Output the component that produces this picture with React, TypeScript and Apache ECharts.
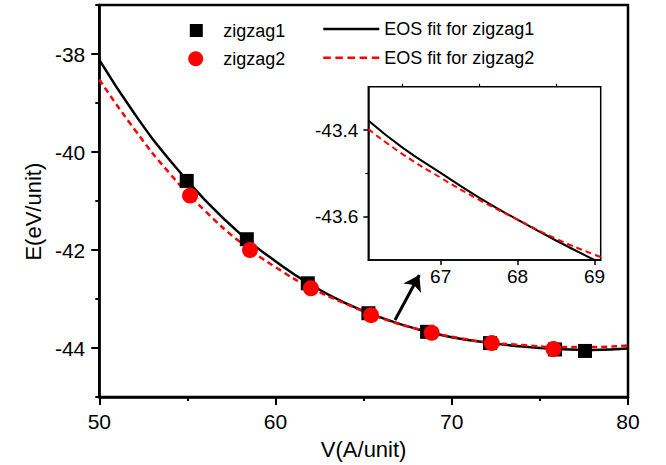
import React, { useEffect, useRef } from "react";
import * as echarts from "echarts";

// ---- data ----
const ZIGZAG1_X = [54.96, 58.37, 61.83, 65.27, 68.6, 72.17, 75.86, 77.56];
const ZIGZAG1_Y = [-40.59, -41.78, -42.68, -43.29, -43.67, -43.9, -44.03, -44.06];

const ZIGZAG2_X = [55.15, 58.55, 62.01, 65.42, 68.86, 72.27, 75.77];
const ZIGZAG2_Y = [-40.89, -42.0, -42.78, -43.33, -43.69, -43.9, -44.02];

const FIT1_X = [50, 52, 54, 56, 58, 60, 62, 64, 66, 68, 70, 72, 74, 76, 78, 80];
const FIT1_Y = [-38.12, -39.22, -40.17, -40.98, -41.67, -42.23, -42.71, -43.09, -43.38, -43.61, -43.78, -43.89, -43.97, -44.02, -44.04, -44.01];

const FIT2_X = [50, 52, 54, 56, 58, 60, 62, 64, 66, 68, 70, 72, 74, 76, 78, 80];
const FIT2_Y = [-38.52, -39.54, -40.44, -41.2, -41.84, -42.35, -42.77, -43.1, -43.39, -43.61, -43.77, -43.88, -43.94, -43.98, -43.98, -43.95];

const INSET1_X = [66.06, 66.5, 67, 67.5, 68, 68.5, 69];
const INSET1_Y = [-43.378, -43.44, -43.499, -43.556, -43.607, -43.655, -43.7];

const INSET2_X = [66.06, 66.5, 67, 67.5, 68, 68.5, 69, 69.08];
const INSET2_Y = [-43.398, -43.455, -43.51, -43.561, -43.607, -43.651, -43.688, -43.693];

const MAIN_X_TICKS = [50, 60, 70, 80];
const MAIN_Y_MAJOR = [-44, -42, -40, -38];
const INSET_X_MAJOR = [67, 68, 69];
const INSET_X_MINOR = [66.5, 67.5, 68.5];
const INSET_Y_MAJOR = [-43.6, -43.4];
const INSET_Y_MINOR = [-43.5];

const ARROW_FROM = [66.78, -43.43];
const ARROW_TO = [68.16, -42.51];

const zip = (xs: number[], ys: number[]) => xs.map((x, i) => [x, ys[i]]);

const FONT = "'Liberation Sans', Arial, sans-serif";

const SQUARE_ICON = "path://M0,0h10v10h-10z";
const SOLID_ICON = "path://M0,0h56v2.6h-56z";
const DASH_ICON =
  "path://M0,0h7.5v2.6h-7.5z M12.1,0h7.5v2.6h-7.5z M24.2,0h7.5v2.6h-7.5z M36.3,0h7.5v2.6h-7.5z M48.5,0h7.5v2.6h-7.5z";

export default function App() {
  const ref = useRef<HTMLDivElement>(null);
  useEffect(() => {
    if (!ref.current) return;
    const chart = echarts.init(ref.current, undefined, { renderer: "svg" });
    const txt = { color: "#000", fontFamily: FONT };
    const legendText = { ...txt, fontSize: 18, lineHeight: 18 };
    chart.setOption({
      animation: false,
      backgroundColor: "#fff",
      legend: [
        {
          data: [{ name: "zigzag1", icon: SQUARE_ICON }],
          left: 189.8, top: 21.5, padding: 0, itemWidth: 13, itemHeight: 13,
          textStyle: { ...legendText, padding: [0, 0, 0, 15.5] }, selectedMode: false,
        },
        {
          data: [{ name: "zigzag2", icon: "circle" }],
          left: 188.2, top: 49.8, padding: 0, itemWidth: 15, itemHeight: 15,
          textStyle: { ...legendText, padding: [0, 0, 0, 15] }, selectedMode: false,
        },
        {
          data: [{ name: "EOS fit for zigzag1", icon: SOLID_ICON }],
          left: 323.3, top: 20, padding: 0, itemWidth: 56, itemHeight: 14,
          textStyle: legendText, selectedMode: false,
        },
        {
          data: [{ name: "EOS fit for zigzag2", icon: DASH_ICON }],
          left: 323.3, top: 48.7, padding: 0, itemWidth: 56, itemHeight: 14,
          textStyle: legendText, selectedMode: false,
        },
      ],
      grid: [
        { left: 99.3, top: 5, width: 528.7, height: 392, show: true, borderColor: "#000", borderWidth: 2.5 },
        { left: 368.3, top: 86.7, width: 232.4, height: 173.3, show: true, borderColor: "#000", borderWidth: 1.5, backgroundColor: "#fff" },
      ],
      xAxis: [
        {
          gridIndex: 0, type: "value", min: 50, max: 80, interval: 10,
          axisLine: { show: true, lineStyle: { color: "#000", width: 2.5 } },
          axisTick: { show: true, length: 8, lineStyle: { color: "#000", width: 2 } },
          minorTick: { show: true, splitNumber: 2, length: 4, lineStyle: { color: "#000", width: 2 } },
          axisLabel: { ...txt, fontSize: 21, margin: 14, customValues: MAIN_X_TICKS },
          splitLine: { show: false },
          name: "V(A/unit)", nameLocation: "middle", nameGap: 41,
          nameTextStyle: { ...txt, fontSize: 22 },
        },
        {
          gridIndex: 1, type: "value", min: 66.06, max: 69.08,
          axisLine: { show: true, lineStyle: { color: "#000", width: 1.5 } },
          axisTick: { show: true, length: 5, customValues: INSET_X_MAJOR, lineStyle: { color: "#000", width: 1.5 } },
          axisLabel: { ...txt, fontSize: 19, margin: 7, customValues: INSET_X_MAJOR },
          splitLine: { show: false },
        },
        {
          gridIndex: 1, type: "value", min: 66.06, max: 69.08,
          axisLine: { show: false },
          axisTick: { show: true, length: 3, customValues: INSET_X_MINOR, lineStyle: { color: "#000", width: 1.2 } },
          axisLabel: { show: false },
          splitLine: { show: false },
        },
      ],
      yAxis: [
        {
          gridIndex: 0, type: "value", min: -45, max: -37, interval: 1,
          axisLine: { show: true, lineStyle: { color: "#000", width: 2.5 } },
          axisTick: { show: true, length: 4, lineStyle: { color: "#000", width: 2 } },
          axisLabel: { ...txt, fontSize: 21, margin: 14, customValues: MAIN_Y_MAJOR },
          splitLine: { show: false },
        },
        {
          gridIndex: 0, type: "value", min: -45, max: -37, position: "left",
          axisLine: { show: false },
          axisTick: { show: true, length: 8, customValues: MAIN_Y_MAJOR, lineStyle: { color: "#000", width: 2 } },
          axisLabel: { show: false },
          splitLine: { show: false },
        },
        {
          gridIndex: 1, type: "value", min: -43.7, max: -43.3,
          axisLine: { show: true, lineStyle: { color: "#000", width: 1.5 } },
          axisTick: { show: true, length: 5, customValues: INSET_Y_MAJOR, lineStyle: { color: "#000", width: 1.5 } },
          axisLabel: {
            ...txt, fontSize: 19, margin: 10, customValues: INSET_Y_MAJOR,
            formatter: (v: number) => v.toFixed(1),
          },
          splitLine: { show: false },
        },
        {
          gridIndex: 1, type: "value", min: -43.7, max: -43.3, position: "left",
          axisLine: { show: false },
          axisTick: { show: true, length: 3, customValues: INSET_Y_MINOR, lineStyle: { color: "#000", width: 1.2 } },
          axisLabel: { show: false },
          splitLine: { show: false },
        },
      ],
      graphic: [
        {
          type: "text",
          x: 33.7,
          y: 211.7,
          rotation: Math.PI / 2,
          style: {
            text: "E(eV/unit)",
            fill: "#000",
            font: `22px ${FONT}`,
            textAlign: "center",
            textVerticalAlign: "middle",
          },
        },
      ],
      series: [
        {
          name: "EOS fit for zigzag1", type: "line", xAxisIndex: 0, yAxisIndex: 0,
          data: zip(FIT1_X, FIT1_Y), smooth: true, symbol: "none", showSymbol: false,
          lineStyle: { color: "#000", width: 2.5 }, itemStyle: { color: "#000" }, z: 2,
          markLine: {
            silent: true, symbol: ["none", "arrow"], symbolSize: 15,
            label: { show: false },
            lineStyle: { color: "#000", width: 3, type: "solid" },
            data: [[{ coord: ARROW_FROM }, { coord: ARROW_TO }]],
          },
        },
        {
          name: "EOS fit for zigzag2", type: "line", xAxisIndex: 0, yAxisIndex: 0,
          data: zip(FIT2_X, FIT2_Y), smooth: true, symbol: "none", showSymbol: false,
          lineStyle: { color: "#ff0000", width: 2.5, type: [6, 4] }, itemStyle: { color: "#ff0000" }, z: 3,
        },
        {
          name: "zigzag1", type: "scatter", xAxisIndex: 0, yAxisIndex: 0,
          data: zip(ZIGZAG1_X, ZIGZAG1_Y), symbol: "rect", symbolSize: 14,
          itemStyle: { color: "#000", opacity: 1 }, z: 4,
        },
        {
          name: "zigzag2", type: "scatter", xAxisIndex: 0, yAxisIndex: 0,
          data: zip(ZIGZAG2_X, ZIGZAG2_Y), symbol: "circle", symbolSize: 16,
          itemStyle: { color: "#ff0000", opacity: 1 }, z: 5,
        },
        {
          name: "inset1", type: "line", xAxisIndex: 1, yAxisIndex: 2,
          data: zip(INSET1_X, INSET1_Y), smooth: true, symbol: "none", showSymbol: false,
          lineStyle: { color: "#000", width: 2 }, z: 6,
        },
        {
          name: "inset2", type: "line", xAxisIndex: 1, yAxisIndex: 2,
          data: zip(INSET2_X, INSET2_Y), smooth: true, symbol: "none", showSymbol: false,
          lineStyle: { color: "#ff0000", width: 2, type: [6, 4] }, z: 7,
        },
      ],
    });
    return () => chart.dispose();
  }, []);
  return (
    <div
      ref={ref}
      style={{ position: "fixed", left: 0, top: 0, width: 666, height: 465, background: "#fff" }}
    />
  );
}
